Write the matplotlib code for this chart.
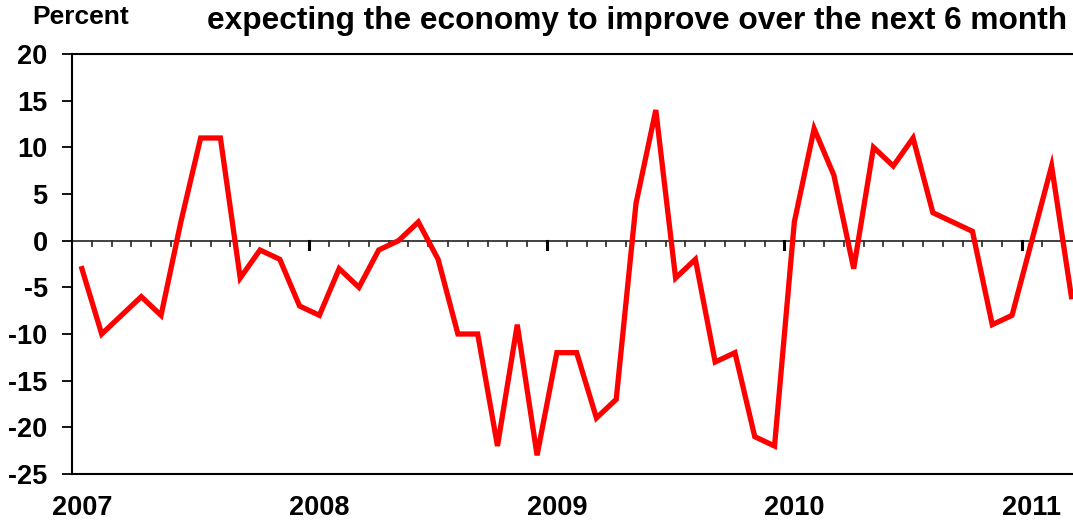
import numpy as np
import matplotlib.pyplot as plt

plt.rcParams['font.family'] = ['Liberation Sans', 'DejaVu Sans']
plt.rcParams['font.weight'] = 'bold'

# monthly balance, Jan 2007 .. Mar 2011
values = [-3, -10, -8, -6, -8, 2, 11, 11, -4, -1, -2, -7,
          -8, -3, -5, -1, 0, 2, -2, -10, -10, -22, -9, -23,
          -12, -12, -19, -17, 4, 14, -4, -2, -13, -12, -21, -22,
          2, 12, 7, -3, 10, 8, 11, 3, 2, 1, -9, -8,
          0, 8, -6]
years = ['2007', '2008', '2009', '2010', '2011']
yticks = [-25, -20, -15, -10, -5, 0, 5, 10, 15, 20]

W, H = 1073, 520
fig = plt.figure(figsize=(W/100, H/100), dpi=100)
ax = fig.add_axes([72/W, 46/H, (W-72)/W, 420/H])

month_px = 19.79
x = np.arange(len(values)) + 0.5
ax.plot(x, values, color='#ff0000', lw=3.8, solid_joinstyle='miter', zorder=3)

ax.set_xlim(0, (W-72)/month_px)
ax.set_ylim(-25, 20)

# zero line with month ticks
ax.axhline(0, color='#333333', lw=1.3, zorder=2)
n_months = int((W-72)/month_px) + 1
for m in range(1, n_months):
    if m % 12 == 0:
        ax.plot([m, m], [0, -0.85], color='black', lw=2.2, zorder=2)
    else:
        ax.plot([m, m], [0, -0.6], color='#333333', lw=1.3, zorder=2)

ax.set_yticks(yticks)
ax.set_yticklabels([str(v) for v in yticks], fontsize=19.5, fontweight='bold')
ax.tick_params(axis='y', direction='out', length=7, width=1.3, pad=10.5)

ax.set_xticks([12*i + 0.5 for i in range(len(years))])
ax.set_xticklabels(years, fontsize=19.5, fontweight='bold')
ax.tick_params(axis='x', length=0, pad=15)

for s in ['left', 'top', 'bottom']:
    ax.spines[s].set_linewidth(1.5)
ax.spines['right'].set_visible(False)

fig.text(32/W, 1 - 17/H, 'Percent', fontsize=19, fontweight='bold', va='center', ha='left')
fig.text(207/W, 1 - 21/H, 'expecting the economy to improve over the next 6 month',
         fontsize=22.8, fontweight='bold', va='center', ha='left')

fig.savefig('out.png', dpi=100)
